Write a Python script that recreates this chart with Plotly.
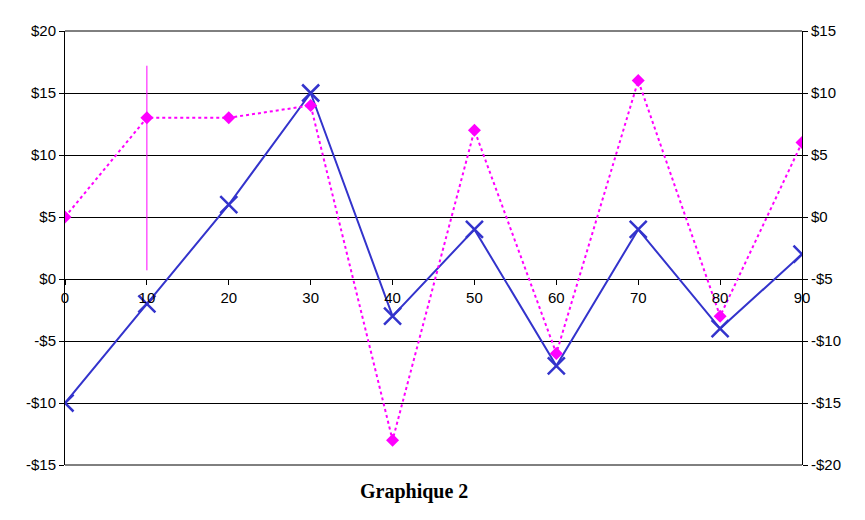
import plotly.graph_objs as go

# DATA
x_vals = [0, 10, 20, 30, 40, 50, 60, 70, 80, 90]
blue_vals = [-10, -2, 6, 15, -3, 4, -7, 4, -4, 2]          # left axis
pink_vals = [0, 8, 8, 9, -18, 7, -11, 11, -8, 6]           # right axis
pink_err_plus = [0, 4.2, 0, 0, 0, 0, 0, 0, 0, 0]
pink_err_minus = [0, 12.3, 0, 0, 0, 0, 0, 0, 0, 0]

left_ticks = [20, 15, 10, 5, 0, -5, -10, -15]
left_labels = ["$20", "$15", "$10", "$5", "$0", "-$5", "-$10", "-$15"]
right_ticks = [15, 10, 5, 0, -5, -10, -15, -20]
right_labels = ["$15", "$10", "$5", "$0", "-$5", "-$10", "-$15", "-$20"]
x_ticks = [0, 10, 20, 30, 40, 50, 60, 70, 80, 90]

FONT = dict(family="Liberation Sans, Arial", size=15, color="black")

# Traces
blue = go.Scatter(
    x=x_vals, y=blue_vals, mode="lines+markers", name="Série 1",
    line=dict(color="#3333CC", width=2),
    marker=dict(symbol="x-thin", size=17, line=dict(color="#3333CC", width=2.5)),
    yaxis="y",
)
pink = go.Scatter(
    x=x_vals, y=pink_vals, mode="lines+markers", name="Série 2",
    line=dict(color="#FF00FF", width=2, dash="dot"),
    marker=dict(symbol="diamond", size=10, color="#FF00FF"),
    error_y=dict(type="data", symmetric=False, array=pink_err_plus,
                 arrayminus=pink_err_minus, color="#FF00FF", thickness=1, width=0),
    yaxis="y2",
)

# Layout (page body adds an 8px offset, so margins are shifted)
layout = go.Layout(
    width=865, height=520,
    margin=dict(l=57, r=71, t=23, b=63),
    paper_bgcolor="white", plot_bgcolor="white",
    showlegend=False,
    font=FONT,
    xaxis=dict(
        range=[0, 90], tickvals=x_ticks, ticktext=[str(v) for v in x_ticks],
        showgrid=False, zeroline=False, showline=False,
        ticks="outside", ticklen=5, tickcolor="black",
        anchor="free", position=(465 - 279) / 434,
        tickfont=FONT, automargin=False,
    ),
    yaxis=dict(
        range=[-15, 20], tickvals=left_ticks, ticktext=left_labels,
        showgrid=True, gridcolor="black", gridwidth=1, zeroline=False,
        showline=True, linecolor="black", linewidth=1,
        ticks="outside", ticklen=5, tickcolor="black",
        tickfont=FONT, automargin=False,
    ),
    yaxis2=dict(
        range=[-20, 15], tickvals=right_ticks, ticktext=right_labels,
        overlaying="y", side="right", showgrid=False, zeroline=False,
        showline=True, linecolor="black", linewidth=1,
        ticks="outside", ticklen=5, tickcolor="black",
        tickfont=FONT, automargin=False,
    ),
    shapes=[
        dict(type="line", xref="paper", yref="paper", x0=0, x1=1, y0=1, y1=1,
             line=dict(color="black", width=1)),
        dict(type="line", xref="paper", yref="paper", x0=0, x1=1, y0=0, y1=0,
             line=dict(color="black", width=1)),
    ],
    annotations=[dict(
        text="<b>Graphique 2</b>", xref="paper", yref="paper",
        x=(414 - 65) / 737, y=-40 / 434, showarrow=False,
        font=dict(family="Liberation Serif, Times New Roman", size=20, color="black"),
    )],
)

fig = go.Figure(data=[blue, pink], layout=layout)
fig.write_html("out.html")
